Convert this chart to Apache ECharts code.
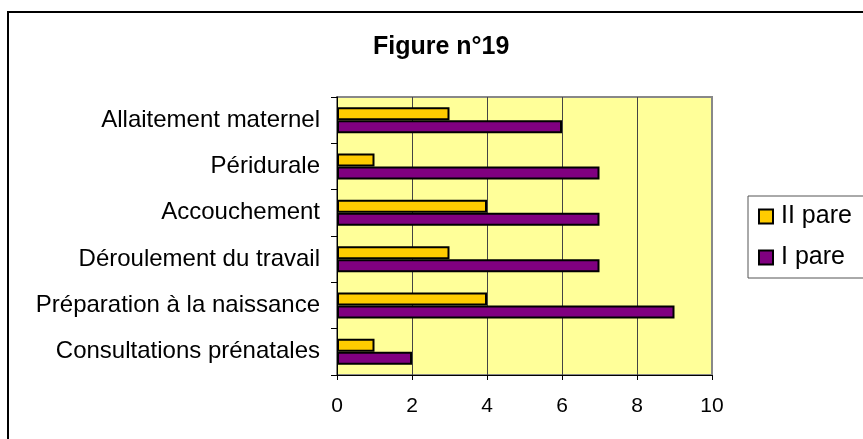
<!DOCTYPE html>
<html>
<head>
<meta charset="utf-8">
<script src="https://cdn.jsdelivr.net/npm/echarts@6/dist/echarts.min.js"></script>
<style>
  html, body { margin: 0; padding: 0; background: #fff; }
  #main { width: 863px; height: 439px; }
</style>
</head>
<body>
<div id="main"></div>
<script>
// categories, bottom to top as on the axis
var categories = ['Consultations prénatales', 'Préparation à la naissance', 'Déroulement du travail',
                  'Accouchement', 'Péridurale', 'Allaitement maternel'];
var iPare = [2, 9, 7, 7, 7, 6];
var iiPare = [1, 4, 3, 4, 1, 3];
var xTicks = [0, 2, 4, 6, 8, 10];

var font = 'Arial, "Liberation Sans", sans-serif';
var myChart = echarts.init(document.getElementById('main'));

var option = {
    backgroundColor: '#fff',
    animation: false,
    title: {
        text: 'Figure n°19',
        left: 368,
        top: 30,
        textStyle: { fontFamily: font, fontSize: 25, fontWeight: 'bold', color: '#000' }
    },
    legend: {
        data: ['II pare', 'I pare'],
        orient: 'vertical',
        left: 748,
        top: 196,
        padding: [8, 40, 8, 10],
        itemGap: 16,
        itemWidth: 14,
        itemHeight: 14,
        icon: 'rect',
        backgroundColor: '#fff',
        borderColor: '#555',
        borderWidth: 1,
        borderRadius: 0,
        itemStyle: { borderColor: '#000', borderWidth: 2 },
        textStyle: { fontFamily: font, fontSize: 25, color: '#000', lineHeight: 24, padding: [0, 0, 0, 3] }
    },
    grid: {
        left: 337,
        right: 151,
        top: 97,
        bottom: 64,
        show: true,
        backgroundColor: '#ffff99',
        borderColor: '#888',
        borderWidth: 2
    },
    xAxis: {
        type: 'value',
        min: xTicks[0],
        max: xTicks[xTicks.length - 1],
        interval: 2,
        axisLine: { show: true, lineStyle: { color: '#000', width: 1 } },
        axisTick: { show: true, length: 5, lineStyle: { color: '#000' } },
        axisLabel: { margin: 21, fontFamily: font, fontSize: 21, color: '#000' },
        splitLine: { show: true, lineStyle: { color: ['#000', '#444', '#444', '#444', '#444', '#888'], width: 1 } }
    },
    yAxis: {
        type: 'category',
        data: categories,
        axisLine: { show: true, lineStyle: { color: '#000', width: 1 } },
        axisTick: { show: true, length: 6, lineStyle: { color: '#000' } },
        axisLabel: { margin: 17, fontFamily: font, fontSize: 24, color: '#000' },
        splitLine: { show: false }
    },
    series: [
        {
            name: 'II pare',
            type: 'bar',
            data: iiPare,
            barWidth: 13,
            barGap: '0%',
            itemStyle: { color: '#ffcc00', borderColor: '#000', borderWidth: 2 }
        },
        {
            name: 'I pare',
            type: 'bar',
            data: iPare,
            barWidth: 13,
            barGap: '0%',
            itemStyle: { color: '#800080', borderColor: '#000', borderWidth: 2 }
        }
    ],
    graphic: [{
        type: 'rect',
        shape: { x: 8, y: 12, width: 1000, height: 1000 },
        style: { fill: 'none', stroke: '#000', lineWidth: 2 },
        silent: true
    }]
};

myChart.setOption(option);
</script>
</body>
</html>
